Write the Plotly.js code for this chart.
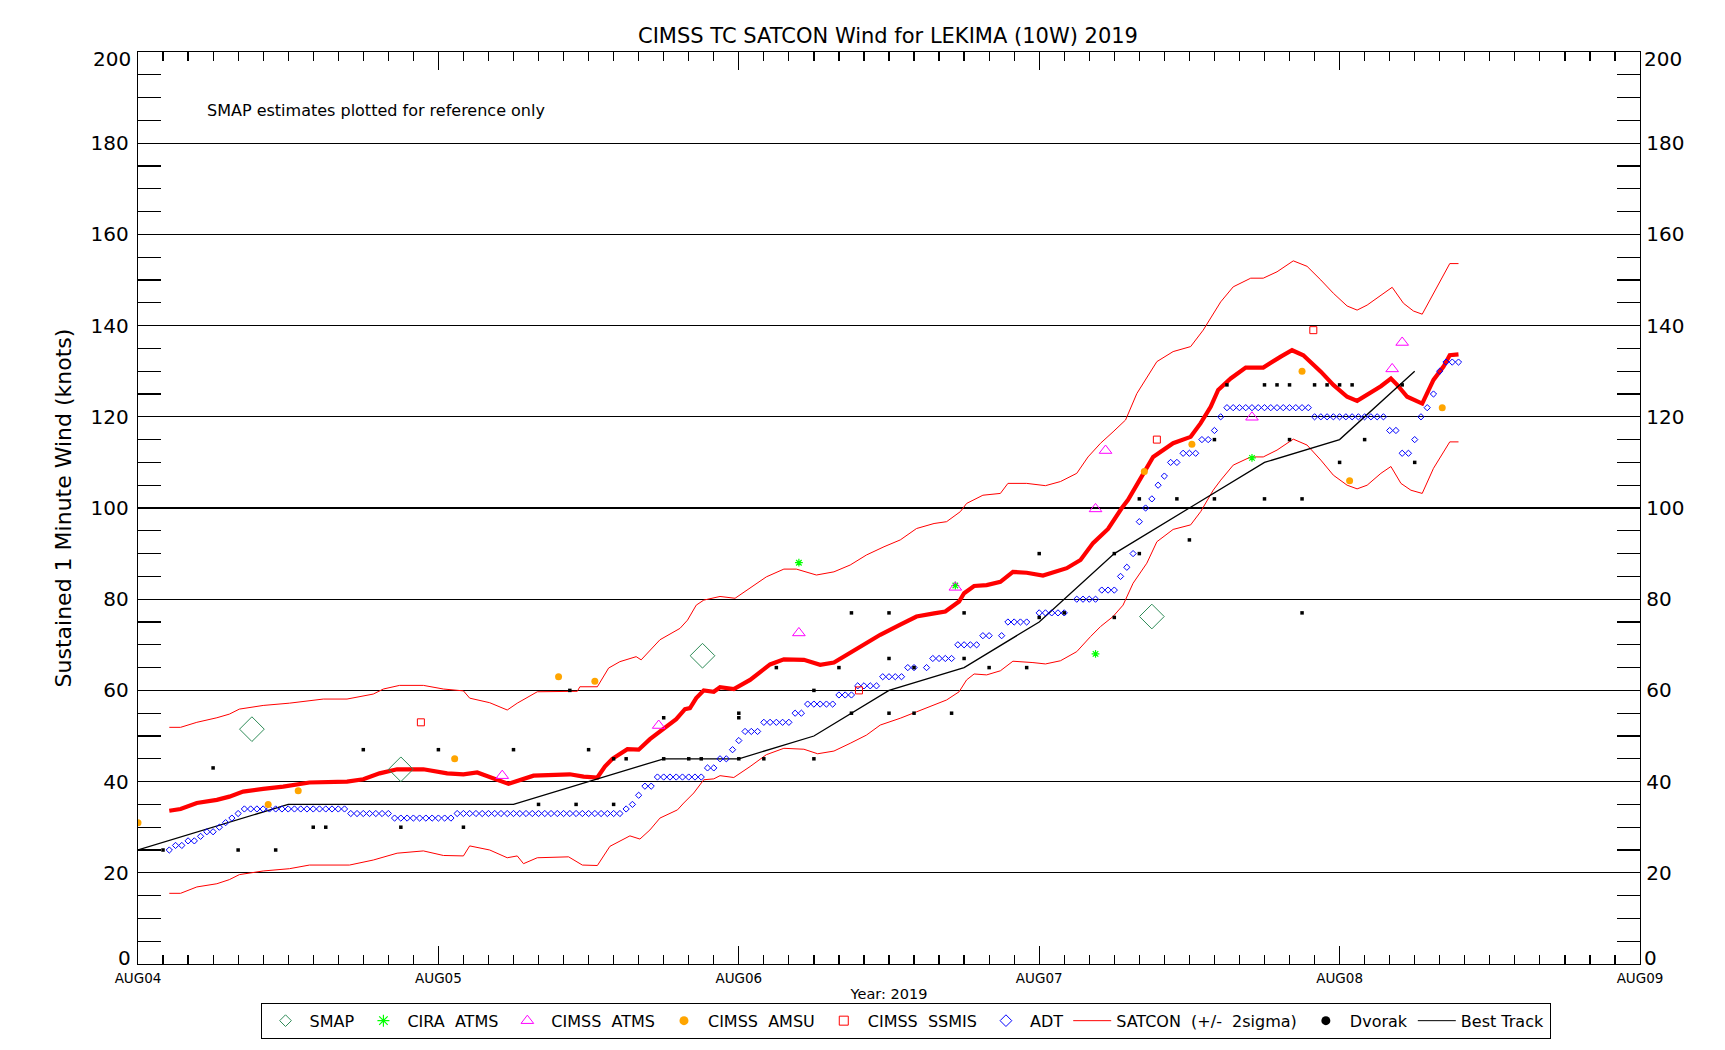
<!DOCTYPE html>
<html>
<head>
<meta charset="utf-8">
<script src="https://cdn.plot.ly/plotly-3.0.1.min.js"></script>
<style>
html,body{margin:0;padding:0;background:#fff;}
#chart{width:1725px;height:1050px;}
</style>
</head>
<body>
<div id="chart"></div>
<script>
// Hours after 2019-08-04 00Z
var dayTicks = [0, 24, 48, 72, 96, 120];
var dayLabels = ['AUG04', 'AUG05', 'AUG06', 'AUG07', 'AUG08', 'AUG09'];
var windTicks = [20, 40, 60, 80, 100, 120, 140, 160, 180];
var windEnds = [0, 200];

// Best Track
var btHours = [0, 12, 30, 42, 48, 54, 60, 66, 72, 78, 84, 90, 96, 102];
var btWind  = [25, 35, 35, 45, 45, 50, 60, 65, 75, 90, 100, 110, 115, 130];

// SATCON mean
var scHours = [2.5,3.4,4.7,6.3,7.3,8.4,10.0,11.6,13.7,16.7,18.0,19.3,20.7,22.8,24.7,26.0,27.1,28.7,29.6,31.6,33.2,34.5,35.6,36.7,37.3,37.9,39.1,40.0,40.9,42.0,43.0,43.7,44.1,44.6,45.2,46.0,46.5,47.6,48.9,50.5,51.6,53.2,54.5,55.6,56.9,58.2,59.3,60.9,62.2,63.6,64.5,65.6,66.0,66.8,67.8,68.9,69.9,71.0,72.3,74.2,75.3,76.3,77.5,78.6,79.1,80.1,81.1,82.7,84.1,84.9,85.7,86.3,87.3,88.5,89.9,91.3,92.2,93.1,94.5,95.5,96.6,97.4,98.2,99.3,100.1,100.6,101.4,102.6,103.5,104.3,104.8,105.5];
var scWind  = [33.6,34.0,35.3,36.0,36.7,37.8,38.4,38.9,39.8,40.0,40.5,41.8,42.7,42.7,41.8,41.6,42.0,40.4,39.5,41.3,41.5,41.6,41.1,40.9,43.3,45.0,47.1,47.0,49.3,51.7,53.7,55.9,56.1,58.3,60.0,59.7,60.7,60.3,62.3,65.7,66.8,66.7,65.6,66.1,68.2,70.3,72.2,74.4,76.2,76.9,77.3,79.5,81.3,82.9,83.1,83.8,86.0,85.8,85.2,86.8,88.6,92.3,95.4,100.0,101.8,106.5,111.2,114.2,115.6,118.6,122.2,125.9,128.4,130.8,130.8,133.2,134.6,133.5,129.9,127.0,124.4,123.5,124.8,126.7,128.4,127.0,124.4,122.9,128.1,131.0,133.5,133.7];

// SATCON + 2 sigma
var upHours = [2.5,3.4,4.7,6.3,7.3,8.1,10.0,12.1,14.8,16.7,18.8,19.6,20.9,22.8,24.4,26.0,26.5,28.1,29.5,30.3,31.9,34.5,35.1,35.3,36.7,37.6,38.5,39.8,40.2,41.7,43.3,43.9,44.6,45.2,46.5,47.7,48.9,50.2,51.6,52.6,54.2,55.6,56.9,58.2,59.6,60.9,62.2,63.6,64.6,65.7,66.2,67.5,68.9,69.5,71.0,72.5,73.7,75.0,75.9,76.9,77.9,78.9,79.8,81.4,82.7,84.1,85.1,86.5,87.5,88.9,89.9,91.0,92.3,93.4,94.5,95.5,96.6,97.4,98.2,99.3,100.2,101.1,101.9,102.6,103.5,104.8,105.5];
var upWind  = [51.9,51.9,53.0,54.0,54.8,55.9,56.7,57.2,58.1,58.1,59.2,60.3,61.1,61.1,60.3,59.9,58.3,57.3,55.7,57.2,59.7,59.7,59.8,60.8,60.8,64.9,66.3,67.4,66.7,71.1,73.6,75.4,78.7,79.8,80.6,80.2,82.4,84.9,86.6,86.6,85.3,86.0,87.5,89.7,91.5,93.0,95.5,96.6,97.0,99.2,101.0,102.8,103.2,105.4,105.4,104.9,105.8,107.6,111.2,114.2,116.7,119.3,125.1,132.1,134.3,135.4,139.0,145.2,148.5,150.4,150.4,151.8,154.2,153.0,150.0,147.1,144.3,143.4,144.5,146.7,148.4,144.9,143.2,142.5,147.1,153.6,153.6];

// SATCON - 2 sigma
var loHours = [2.5,3.4,4.7,6.3,7.3,8.1,10.0,12.1,13.7,16.9,18.8,20.7,22.8,24.4,26.0,26.5,28.1,29.5,30.3,30.8,31.9,34.4,35.5,36.7,37.7,38.2,39.3,40.1,40.9,41.7,43.1,43.6,44.4,45.2,46.0,46.5,47.6,48.9,50.2,51.6,53.2,54.3,55.6,56.9,58.2,59.3,60.9,62.2,63.6,64.6,65.6,66.2,66.8,67.8,68.9,69.9,71.5,72.5,73.7,75.0,76.1,76.9,77.9,78.7,79.5,80.6,81.4,82.7,84.1,84.9,85.9,86.5,87.5,88.9,89.9,91.0,92.3,93.4,94.5,95.5,96.6,97.4,98.2,99.3,100.1,100.9,101.7,102.6,103.5,104.8,105.5];
var loWind  = [15.5,15.5,16.9,17.6,18.5,19.6,20.4,20.9,21.7,21.7,22.8,24.3,24.8,23.8,23.7,25.9,25.0,23.3,23.7,22.0,23.3,23.5,21.7,21.6,25.8,26.5,28.1,27.4,29.4,32.0,33.8,35.3,37.5,40.4,40.6,41.3,40.9,43.3,45.9,47.3,47.1,46.1,46.7,48.4,50.2,52.4,53.9,55.3,56.8,57.9,59.7,62.3,63.6,63.4,64.3,66.4,66.1,65.8,66.5,68.5,71.8,74.0,76.2,78.7,83.5,87.9,92.6,95.3,96.3,99.2,103.9,106.1,109.4,111.2,111.2,112.7,115.1,113.8,110.5,107.2,105.0,104.2,105.0,107.6,109.1,105.4,103.9,103.2,108.7,114.5,114.5];

// ADT
var adtHours = [2.5,3,3.5,4,4.5,5,5.5,6,6.5,7,7.5,8,
  8.5,9,9.5,10,10.5,11,11.5,12,12.5,13,13.5,14,14.5,15,15.5,16,16.5,
  17,17.5,18,18.5,19,19.5,20,
  20.5,21,21.5,22,22.5,23,23.5,24,24.5,25,
  25.5,26,26.5,27,27.5,28,28.5,29,29.5,30,30.5,31,31.5,32,32.5,33,33.5,34,34.5,35,35.5,36,36.5,37,37.5,38,38.5,
  39,39.5,40,40.5,41,
  41.5,42,42.5,43,43.5,44,44.5,45,
  45.5,46,46.5,47,47.5,48,48.5,49,49.5,
  50,50.5,51,51.5,52,52.5,53,
  53.5,54,54.5,55,55.5,56,56.5,57,
  57.5,58,58.5,59,59.5,60,60.5,61,
  61.5,62,63,63.5,64,64.5,65,
  65.5,66,66.5,67,67.5,68,69,
  69.5,70,70.5,71,72,72.5,73,73.5,74,
  75,75.5,76,76.5,77,77.5,78,78.5,79,79.5,80,80.5,81,81.5,82,82.5,83,83.5,84,84.5,85,85.5,86,86.5,
  87,87.5,88,88.5,89,89.5,90,90.5,91,91.5,92,92.5,93,93.5,
  94,94.5,95,95.5,96,96.5,97,97.5,98,98.5,99,99.5,
  100,100.5,101,101.5,102,102.5,103,103.5,104,104.5,105,105.5];
var adtWind = [25,26,26,27,27,28,29,29,30,31,32,33,
  34,34,34,34,34,34,34,34,34,34,34,34,34,34,34,34,34,
  33,33,33,33,33,33,33,
  32,32,32,32,32,32,32,32,32,32,
  33,33,33,33,33,33,33,33,33,33,33,33,33,33,33,33,33,33,33,33,33,33,33,33,33,33,33,
  34,35,37,39,39,
  41,41,41,41,41,41,41,41,
  43,43,45,45,47,49,51,51,51,
  53,53,53,53,53,55,55,
  57,57,57,57,57,59,59,59,
  61,61,61,61,63,63,63,63,
  65,65,65,67,67,67,67,
  70,70,70,70,72,72,72,
  75,75,75,75,77,77,77,77,77,
  80,80,80,80,82,82,82,85,87,90,97,100,102,105,107,110,110,112,112,112,115,115,117,120,
  122,122,122,122,122,122,122,122,122,122,122,122,122,122,
  120,120,120,120,120,120,120,120,120,120,120,120,
  117,117,112,112,115,120,122,125,130,132,132,132];

// Dvorak
var dvHours = [2,6,8,11,14,15,18,21,24,26,30,32,35,34.5,36,38,38,39,42,42,44,45,48,48,48,50,51,54,54,56,57,57,60,60,60,62,62,65,66,66,68,71,72,72,74,78,78,80,80,83,84,86,86,87,90,90,91,92,92,93,93,94,95,96,96,97,98,101,102];
var dvWind  = [25,43,25,25,30,30,47,30,47,30,47,35,35,60,47,35,45,45,45,54,45,45,45,54,55,45,65,45,60,65,55,77,55,67,77,55,65,55,67,77,65,65,76,90,77,76,90,90,102,102,93,102,115,127,102,127,127,115,127,77,102,127,127,110,127,127,115,127,110];

// CIMSS AMSU
var amHours = [0, 10.4, 12.8, 25.3, 33.6, 36.5, 80.4, 84.2, 93.0, 96.8, 104.2];
var amWind  = [31, 35, 38, 45, 63, 62, 108, 114, 130, 106, 122];

// CIMSS ATMS
var atHours = [29.1, 41.6, 52.8, 65.3, 76.5, 77.3, 89.0, 100.2, 101.0];
var atWind  = [41.3, 52.3, 72.6, 82.6, 99.8, 112.6, 119.9, 130.5, 136.3];

// CIRA ATMS
var crHours = [52.8, 65.3, 76.5, 89.0];
var crWind  = [88, 83, 68, 111];

// CIMSS SSMIS
var ssHours = [22.6, 57.6, 81.4, 93.9];
var ssWind  = [53, 60, 115, 139];

// SMAP
var smHours = [9.1, 21.0, 45.1, 81.0];
var smWind  = [51.5, 42.7, 67.6, 76.2];

var FONT = 'DejaVu Sans, Arial, sans-serif';
var BLACK = '#000000';

// legend-only entry (drawn only in the legend box)
function legendEntry(name, rank, marker, line) {
  var t = {x: [null], y: [null], name: name, legendrank: rank, legendgroup: name, hoverinfo: 'skip'};
  if (line) { t.mode = 'lines'; t.line = line; }
  else { t.mode = 'markers'; t.marker = marker; }
  return t;
}

var traces = [
  {x: loHours, y: loWind, mode: 'lines', line: {color: '#ff0000', width: 1}, showlegend: false},
  {x: upHours, y: upWind, mode: 'lines', line: {color: '#ff0000', width: 1}, showlegend: false},
  {x: scHours, y: scWind, mode: 'lines', line: {color: '#ff0000', width: 4.2}, showlegend: false},
  {x: btHours, y: btWind, mode: 'lines', line: {color: BLACK, width: 1.3}, showlegend: false},
  {x: adtHours, y: adtWind, mode: 'markers', marker: {symbol: 'diamond-open', size: 4.8, color: '#0000ff', line: {width: 1, color: '#0000ff'}}, showlegend: false},
  {x: smHours, y: smWind, mode: 'markers', marker: {symbol: 'diamond-open', size: 19, color: '#2e8b57', line: {width: 1, color: '#2e8b57'}}, showlegend: false},
  {x: crHours, y: crWind, mode: 'markers', marker: {symbol: 'asterisk-open', size: 6.5, color: '#00ff00', line: {width: 1.2, color: '#00ff00'}}, showlegend: false},
  {x: atHours, y: atWind, mode: 'markers', marker: {symbol: 'triangle-up-open', size: 11, color: '#ff00ff', line: {width: 1, color: '#ff00ff'}}, showlegend: false},
  {x: amHours, y: amWind, mode: 'markers', marker: {symbol: 'circle', size: 7, color: '#ffa500', line: {width: 0}}, showlegend: false},
  {x: ssHours, y: ssWind, mode: 'markers', marker: {symbol: 'square-open', size: 7, color: '#ff0000', line: {width: 1, color: '#ff0000'}}, showlegend: false},
  {x: dvHours, y: dvWind, mode: 'markers', marker: {symbol: 'square', size: 3.5, color: BLACK, line: {width: 0}}, showlegend: false},
  {x: [], y: [], yaxis: 'y2', mode: 'markers', showlegend: false, hoverinfo: 'skip'},

  legendEntry('SMAP', 1, {symbol: 'diamond-open', size: 9, color: '#2e8b57', line: {width: 1, color: '#2e8b57'}}),
  legendEntry('CIRA\u00a0 ATMS', 2, {symbol: 'asterisk-open', size: 10, color: '#00ff00', line: {width: 1.2, color: '#00ff00'}}),
  legendEntry('CIMSS\u00a0 ATMS', 3, {symbol: 'triangle-up-open', size: 11, color: '#ff00ff', line: {width: 1, color: '#ff00ff'}}),
  legendEntry('CIMSS\u00a0 AMSU', 4, {symbol: 'circle', size: 9, color: '#ffa500', line: {width: 0}}),
  legendEntry('CIMSS\u00a0 SSMIS', 5, {symbol: 'square-open', size: 9, color: '#ff0000', line: {width: 1, color: '#ff0000'}}),
  legendEntry('ADT', 6, {symbol: 'diamond-open', size: 9, color: '#0000ff', line: {width: 1, color: '#0000ff'}}),
  legendEntry('SATCON\u00a0 (+/-\u00a0 2sigma)', 7, null, {color: '#ff0000', width: 1}),
  legendEntry('Dvorak', 8, {symbol: 'circle', size: 9, color: BLACK, line: {width: 0}}),
  legendEntry('Best Track', 9, null, {color: BLACK, width: 1})
];

var yCommon = {
  range: [0, 200], tickmode: 'array', tickvals: windTicks,
  ticks: 'inside', ticklen: 23, tickwidth: 1.2, tickcolor: BLACK,
  minor: {tickmode: 'linear', tick0: 0, dtick: 5, ticks: 'inside', ticklen: 23, tickwidth: 1.2, tickcolor: BLACK, showgrid: false},
  showline: true, linecolor: BLACK, linewidth: 1.3,
  zeroline: false, fixedrange: true,
  tickfont: {family: FONT, size: 20, color: BLACK}
};

var annotations = [{
  text: 'SMAP estimates plotted for reference only',
  xref: 'paper', yref: 'paper', x: 0.0446, y: 0.9364,
  xanchor: 'left', yanchor: 'middle', showarrow: false,
  font: {family: FONT, size: 16, color: BLACK}
}];
// end labels of the wind axis (0 sits above the bottom line, 200 below the top line)
windEnds.forEach(function (v) {
  var isTop = v === windEnds[1];
  [0, 1].forEach(function (side) {
    annotations.push({
      text: String(v), xref: 'paper', yref: 'y', x: side, y: v,
      xanchor: side ? 'left' : 'right', yanchor: isTop ? 'top' : 'bottom',
      xshift: side ? 2 : -5, yshift: isTop ? 7 : -8,
      showarrow: false, font: {family: FONT, size: 20, color: BLACK}
    });
  });
});

var layout = {
  width: 1725, height: 1050,
  margin: {l: 138, r: 85, t: 52, b: 86, autoexpand: false},
  paper_bgcolor: '#ffffff', plot_bgcolor: '#ffffff',
  title: {
    text: 'CIMSS TC SATCON Wind for LEKIMA (10W) 2019',
    font: {family: FONT, size: 21, color: BLACK},
    x: 888 / 1725, xanchor: 'center', y: 1 - 36 / 1050, yanchor: 'middle'
  },
  xaxis: {
    range: [0, 120], tickmode: 'array', tickvals: dayTicks, ticktext: dayLabels,
    ticks: 'inside', ticklen: 18, tickwidth: 1.2, tickcolor: BLACK,
    minor: {tickmode: 'linear', tick0: 0, dtick: 2, ticks: 'inside', ticklen: 9, tickwidth: 1.2, tickcolor: BLACK, showgrid: false},
    showline: true, linecolor: BLACK, linewidth: 1.3, mirror: 'ticks',
    showgrid: false, zeroline: false, fixedrange: true,
    tickfont: {family: FONT, size: 13.5, color: BLACK},
    ticklabelstandoff: 1,
    title: {text: 'Year: 2019', font: {family: FONT, size: 14.5, color: BLACK}, standoff: 4}
  },
  yaxis: Object.assign({}, yCommon, {
    side: 'left', showgrid: true, gridcolor: BLACK, gridwidth: 1.3,
    ticklabelstandoff: 4,
    title: {text: 'Sustained 1 Minute Wind (knots)', font: {family: FONT, size: 22, color: BLACK}, standoff: 12}
  }),
  yaxis2: Object.assign({}, yCommon, {
    overlaying: 'y', side: 'right', showgrid: false, ticklabelstandoff: 1
  }),
  legend: {
    orientation: 'h', x: 0.511, xanchor: 'center', y: -0.0425, yanchor: 'top',
    bordercolor: BLACK, borderwidth: 1, bgcolor: 'rgba(255,255,255,0)',
    font: {family: FONT, size: 16, color: BLACK},
    itemwidth: 38, itemsizing: 'trace', traceorder: 'normal'
  },
  showlegend: true,
  annotations: annotations
};

Plotly.newPlot('chart', traces, layout, {displayModeBar: false, staticPlot: true});
</script>
</body>
</html>
